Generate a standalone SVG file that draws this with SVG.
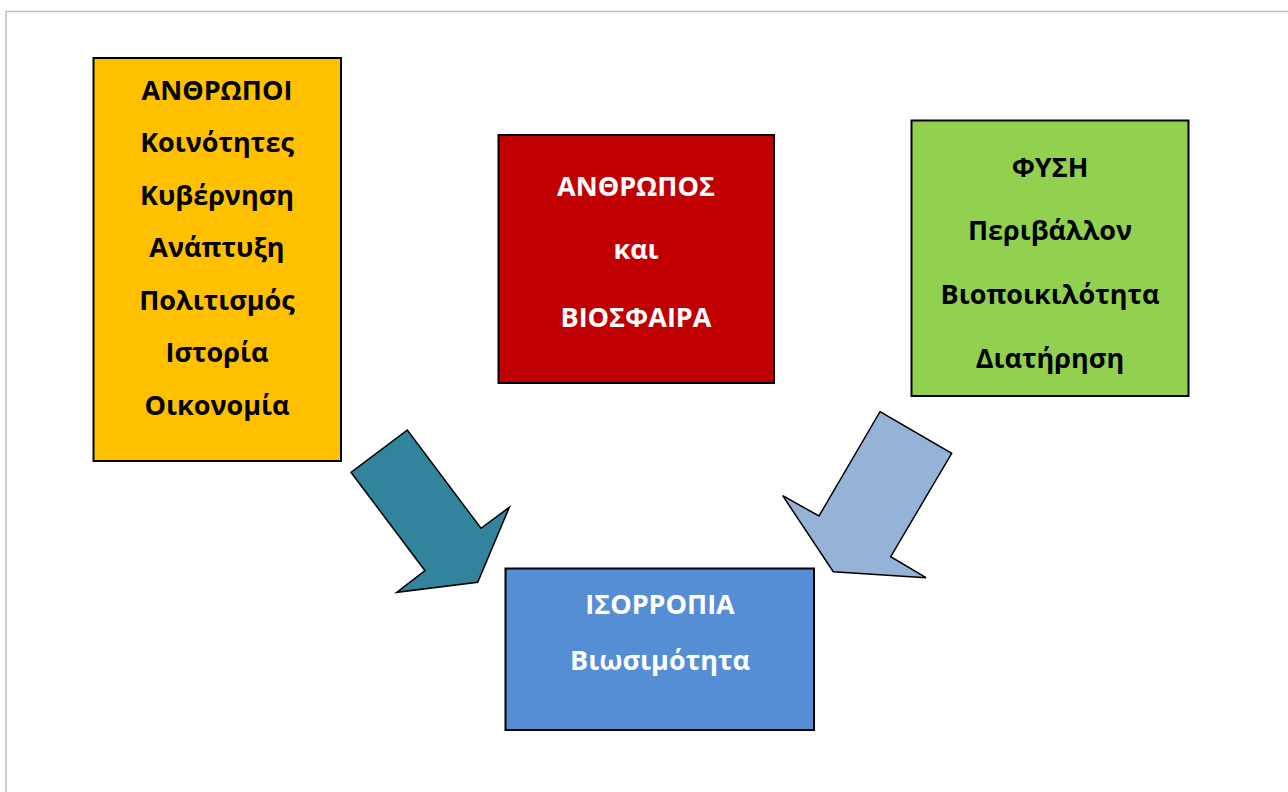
<svg xmlns="http://www.w3.org/2000/svg" width="1288" height="792" viewBox="0 0 1288 792">
<style>
.box{stroke:#000;stroke-width:2}
.t{font-family:"Open Sans","Liberation Sans",sans-serif;font-weight:bold;font-size:27px;text-anchor:middle}
.dk{fill:#000}
.wh{fill:#fff}
.arr{stroke:#000;stroke-width:1.5;stroke-linejoin:miter}
</style>
<rect x="0" y="0" width="1288" height="792" fill="#fff"/>
<rect x="6" y="11.5" width="1300" height="800" fill="none" stroke="#BFBFBF" stroke-width="1.5"/>
<g id="connectors">
<polygon class="arr" fill="#31849B" points="407.3,430 351,472.3 425,570.7 396.7,592.3 477.7,582.3 509.3,507.3 481,528.3"/>
<polygon class="arr" fill="#95B3D7" points="880,411.7 951.7,453.3 890.7,556.7 926,577.7 833.3,571.7 782.7,495.7 819,516"/>
</g>
<g id="anthropoi">
<rect class="box" x="93.5" y="58" width="247.5" height="403" fill="#FFC000"/>
<text class="t dk" x="217" y="99.5">ΑΝΘΡΩΠΟΙ</text>
<text class="t dk" x="217" y="152">Κοινότητες</text>
<text class="t dk" x="217" y="204.5">Κυβέρνηση</text>
<text class="t dk" x="217" y="257">Ανάπτυξη</text>
<text class="t dk" x="217" y="309.5">Πολιτισμός</text>
<text class="t dk" x="217" y="362">Ιστορία</text>
<text class="t dk" x="217" y="414.5">Οικονομία</text>
</g>
<g id="anthropos">
<rect class="box" x="498.5" y="135" width="275.5" height="248" fill="#C00000"/>
<text class="t wh" x="636" y="195.5">ΑΝΘΡΩΠΟΣ</text>
<text class="t wh" x="636" y="259">και</text>
<text class="t wh" x="636" y="326.5">ΒΙΟΣΦΑΙΡΑ</text>
</g>
<g id="fysi">
<rect class="box" x="911.5" y="120.5" width="277" height="275.5" fill="#92D050"/>
<text class="t dk" x="1050" y="176.5">ΦΥΣΗ</text>
<text class="t dk" x="1050" y="240">Περιβάλλον</text>
<text class="t dk" x="1050" y="304">Βιοποικιλότητα</text>
<text class="t dk" x="1050" y="367.5">Διατήρηση</text>
</g>
<g id="isorropia">
<rect class="box" x="505.5" y="568.5" width="308.5" height="161.5" fill="#558ED5"/>
<text class="t wh" x="660" y="613.5">ΙΣΟΡΡΟΠΙΑ</text>
<text class="t wh" x="660" y="669.5">Βιωσιμότητα</text>
</g>
</svg>
